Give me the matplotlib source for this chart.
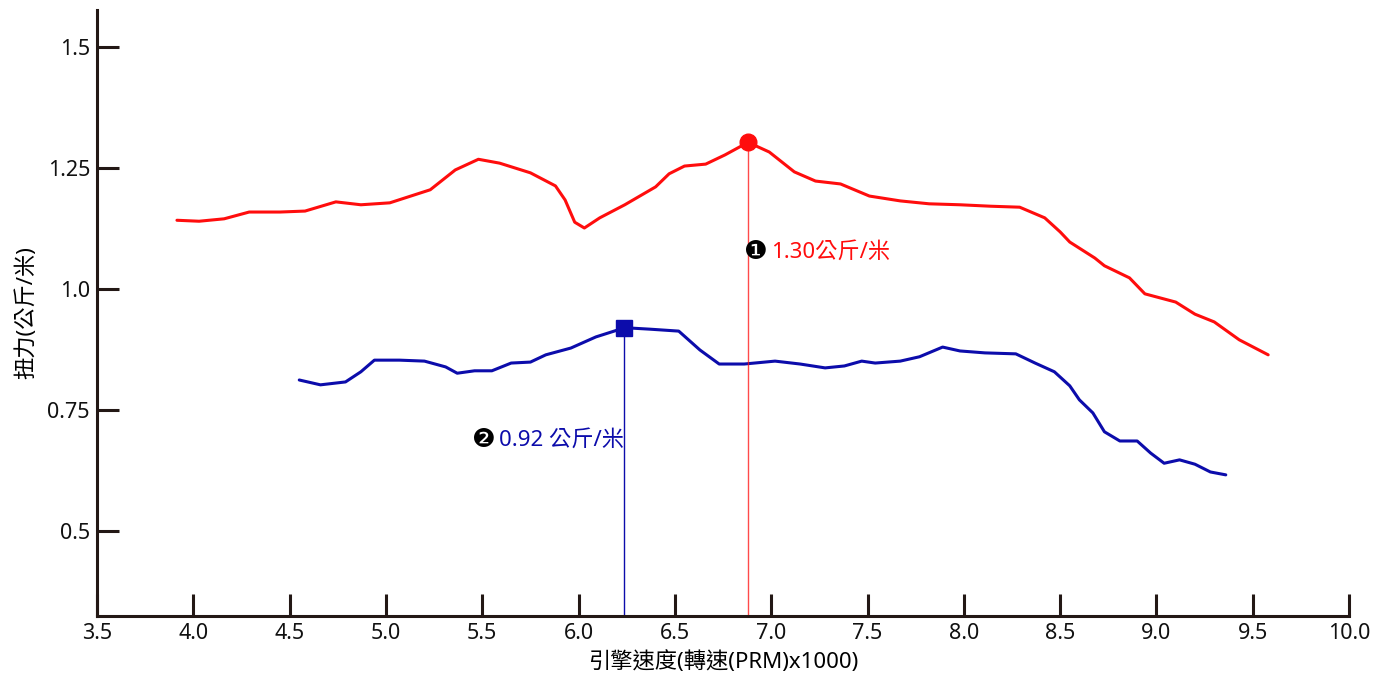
import matplotlib
matplotlib.use("Agg")
import matplotlib.pyplot as plt

plt.rcParams['font.family'] = ['Noto Sans', 'Noto Sans CJK TC', 'DejaVu Sans']

# red series (torque 1)
red_x = [3.915, 4.03, 4.16, 4.29, 4.45, 4.58, 4.74, 4.87, 5.02, 5.23, 5.36, 5.48,
         5.59, 5.75, 5.88, 5.93, 5.98, 6.03, 6.11, 6.24, 6.40, 6.47, 6.55, 6.66,
         6.76, 6.88, 6.99, 7.12, 7.23, 7.36, 7.51, 7.67, 7.82, 7.98, 8.14, 8.29,
         8.42, 8.50, 8.55, 8.68, 8.73, 8.86, 8.94, 9.10, 9.20, 9.30, 9.43, 9.58]
red_y = [1.142, 1.140, 1.145, 1.159, 1.159, 1.161, 1.180, 1.174, 1.178, 1.205, 1.246, 1.268,
         1.260, 1.240, 1.213, 1.184, 1.138, 1.126, 1.147, 1.174, 1.211, 1.238, 1.254, 1.258,
         1.277, 1.303, 1.283, 1.242, 1.223, 1.217, 1.192, 1.182, 1.176, 1.174, 1.171, 1.169,
         1.147, 1.118, 1.097, 1.064, 1.048, 1.023, 0.990, 0.973, 0.948, 0.932, 0.895, 0.864]

# blue series (torque 2)
blue_x = [4.55, 4.66, 4.79, 4.87, 4.94, 5.07, 5.20, 5.31, 5.37, 5.46, 5.55, 5.65,
          5.75, 5.83, 5.96, 6.09, 6.24, 6.37, 6.52, 6.63, 6.73, 6.86, 7.02, 7.15,
          7.28, 7.38, 7.47, 7.54, 7.67, 7.77, 7.89, 7.98, 8.11, 8.27, 8.37, 8.47,
          8.55, 8.60, 8.67, 8.73, 8.81, 8.90, 8.97, 9.04, 9.12, 9.20, 9.28, 9.36]
blue_y = [0.812, 0.802, 0.808, 0.829, 0.853, 0.853, 0.851, 0.839, 0.826, 0.831, 0.831, 0.847,
          0.849, 0.864, 0.878, 0.901, 0.920, 0.917, 0.913, 0.874, 0.845, 0.845, 0.851, 0.845,
          0.837, 0.841, 0.851, 0.847, 0.851, 0.860, 0.880, 0.872, 0.868, 0.866, 0.847, 0.829,
          0.800, 0.771, 0.744, 0.705, 0.686, 0.686, 0.661, 0.640, 0.647, 0.638, 0.622, 0.616]

red_peak = (6.88, 1.303)
blue_peak = (6.236, 0.920)
red_label = "1.30公斤/米"
blue_label = "0.92 公斤/米"
red_label_pos = (6.922, 1.076)
blue_label_pos = (5.509, 0.688)

x_ticks = [3.5, 4.0, 4.5, 5.0, 5.5, 6.0, 6.5, 7.0, 7.5, 8.0, 8.5, 9.0, 9.5, 10.0]
y_ticks = [0.5, 0.75, 1.0, 1.25, 1.5]
y_tick_labels = ["0.5", "0.75", "1.0", "1.25", "1.5"]

RED = "#ff0d0d"
BLUE = "#0c0cab"
AXC = "#231815"

fig = plt.figure(figsize=(13.78, 6.8), dpi=100)
ax = fig.add_axes([0.0704, 0.0941, 0.9086, 0.8912])

ax.plot(red_x, red_y, color=RED, lw=2.2, solid_capstyle='round', solid_joinstyle='round')
ax.plot(blue_x, blue_y, color=BLUE, lw=2.2, solid_capstyle='round', solid_joinstyle='round')

ymin = 0.3244
ax.vlines(red_peak[0], ymin, red_peak[1], color=RED, lw=1.0, alpha=0.75)
ax.vlines(blue_peak[0], ymin, blue_peak[1], color=BLUE, lw=1.0)
ax.plot(*red_peak, 'o', color=RED, ms=12, zorder=5)
ax.plot(*blue_peak, 's', color=BLUE, ms=11, zorder=5)

# circled numbers in black, value text in series colour
ax.text(*red_label_pos, "❶", color='black', fontsize=19, ha='center', va='center',
        family='DejaVu Sans')
ax.annotate(red_label, red_label_pos, xytext=(10.5, 0), textcoords='offset points',
            color=RED, fontsize=16, ha='left', va='center')
ax.text(*blue_label_pos, "❷", color='black', fontsize=19, ha='center', va='center',
        family='DejaVu Sans')
ax.annotate(blue_label, blue_label_pos, xytext=(10.5, 0), textcoords='offset points',
            color=BLUE, fontsize=16, ha='left', va='center')

ax.set_xlim(3.5, 10.0)
ax.set_ylim(ymin, 1.5764)
ax.set_xticks(x_ticks)
ax.set_xticklabels([f"{t:.1f}" for t in x_ticks])
ax.set_yticks(y_ticks)
ax.set_yticklabels(y_tick_labels)

for s in ['top', 'right']:
    ax.spines[s].set_visible(False)
for s in ['left', 'bottom']:
    ax.spines[s].set_color(AXC)
    ax.spines[s].set_linewidth(2.2)
ax.tick_params(direction='in', length=16, width=2.2, color=AXC,
               labelsize=15.5, labelcolor='#111111', pad=5)

ax.set_xlabel("引擎速度(轉速(PRM)x1000)", fontsize=16, labelpad=5)
ax.set_ylabel("扭力(公斤/米)", fontsize=16, labelpad=7)

fig.savefig("out.png", dpi=100)
